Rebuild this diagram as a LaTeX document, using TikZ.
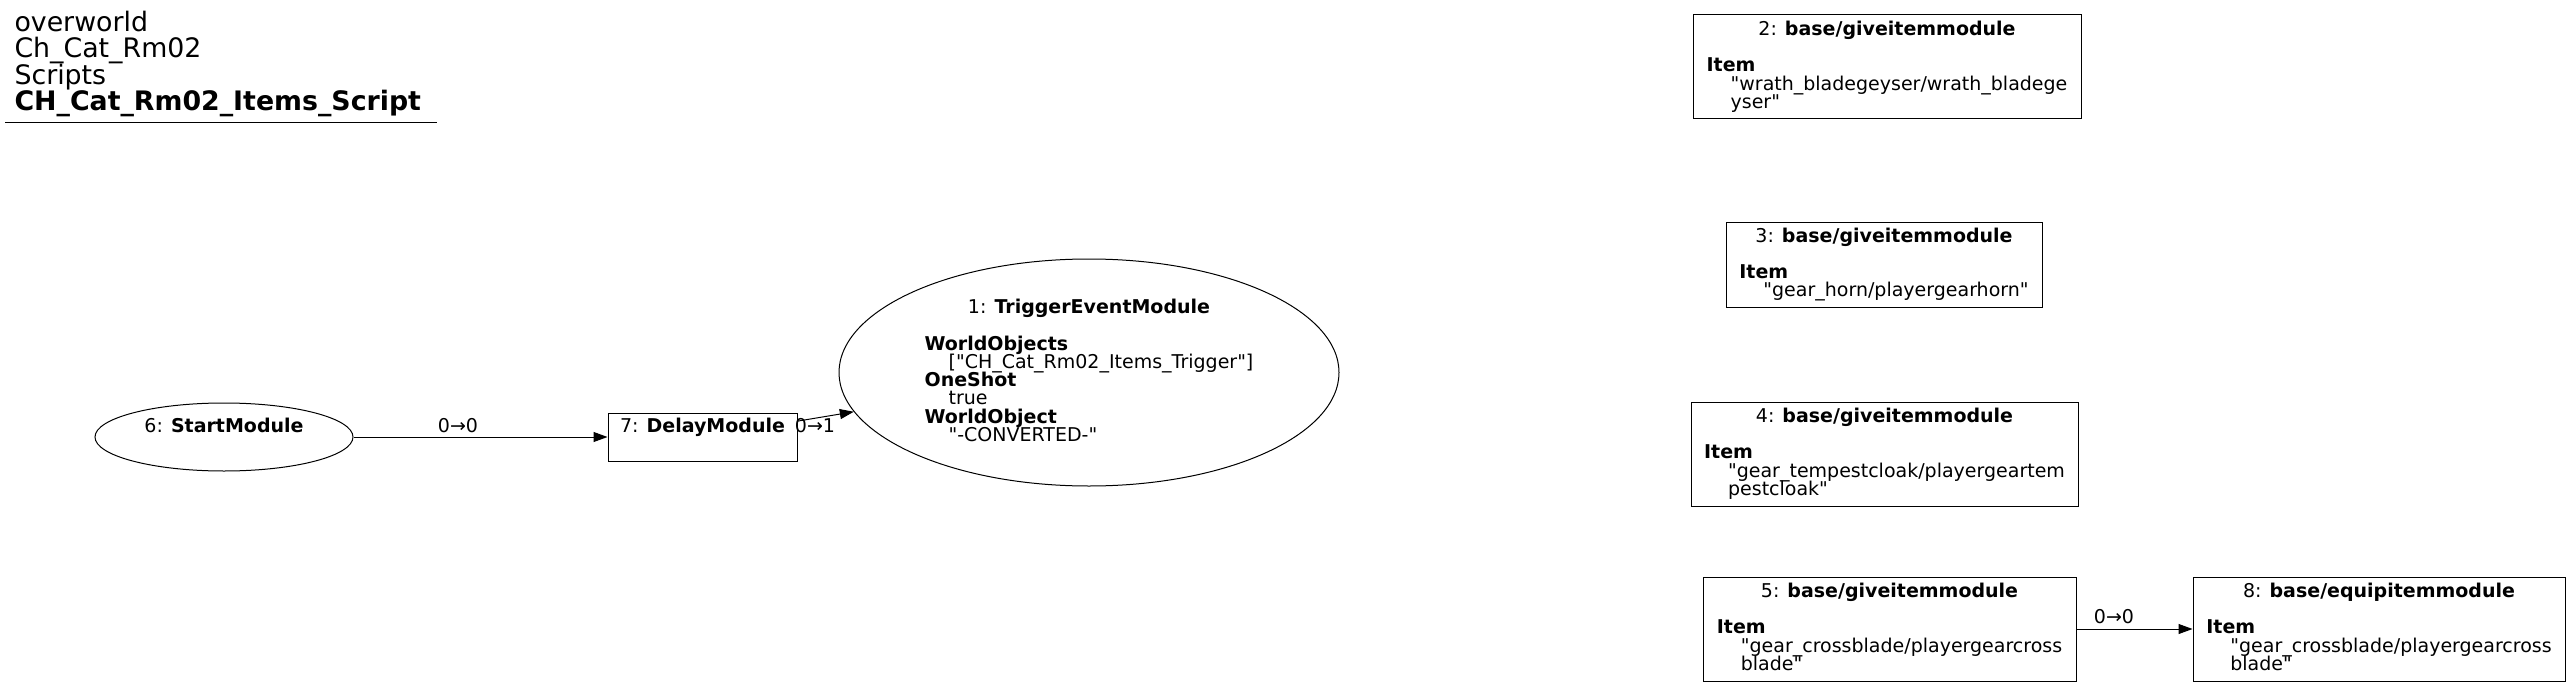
\documentclass[tikz,border=0pt]{standalone}
\usepackage{fontspec}
\setmainfont{DejaVu Sans}[Ligatures=TeXOff]
\usetikzlibrary{shapes.geometric,arrows.meta}

\newcommand{\nodefont}{\fontsize{19pt}{18.3pt}\selectfont}
\newcommand{\titlefont}{\fontsize{26.8pt}{26.5pt}\selectfont\lineskiplimit=-100pt\lineskip=0pt}
\newcommand{\lnstrut}{\rule[-4.5pt]{0pt}{18.9pt}}
\newcommand{\ind}{\hspace*{24pt}}
% title line, a blank line, then the field lines
\newcommand{\mlabel}[2]{\vbox{\baselineskip=18.3pt\lineskiplimit=-100pt\lineskip=0pt
	\halign{\lnstrut##\hfil\cr\hfill#1\hfill\cr\cr#2}}}

\tikzset{every picture/.style={line width=1pt}}
\tikzset{
	modbox/.style={draw, rectangle, inner xsep=12pt, inner ysep=0pt, font=\nodefont},
	modell/.style={draw, ellipse, inner sep=0pt, font=\nodefont},
	edge/.style={-{Triangle[length=14pt,width=10pt]}},
	lbl/.style={font=\nodefont, inner sep=0pt, anchor=base}}

\begin{document}
\begin{tikzpicture}[x=1pt,y=1pt,yscale=-1,xscale=1]
	\useasboundingbox (0,0) rectangle (2571,687);

	% Text Node
	\node [anchor=north west, inner sep=0pt, align=left, font=\titlefont] (ttl) at (14,10.6) {overworld\\Ch\_Cat\_Rm02\\Scripts\\\textbf{CH\_Cat\_Rm02\_Items\_Script}};
	%Straight Lines
	\draw (5,123) -- (437,123);

	%Shape: Ellipse
	\node [modell, minimum width=258pt, minimum height=68pt] (n6) at (224,437) {\mlabel{6: \textbf{StartModule}}{}};
	%Shape: Rectangle
	\node [modbox, minimum width=189pt, minimum height=48pt] (n7) at (702.5,437) {\mlabel{7: \textbf{DelayModule}}{}};
	%Shape: Ellipse
	\node [modell, minimum width=500pt, minimum height=227pt] (n1) at (1089,372.5) {\mlabel{1: \textbf{TriggerEventModule}}{%
		\textbf{WorldObjects}\cr
		\ind["CH\_Cat\_Rm02\_Items\_Trigger"]\cr
		\textbf{OneShot}\cr
		\ind true\cr
		\textbf{WorldObject}\cr
		\ind"-CONVERTED-"\cr}};
	%Shape: Rectangle
	\node [modbox, minimum width=388pt, minimum height=104pt] (n2) at (1887,67) {\mlabel{2: \textbf{base/giveitemmodule}}{%
		\textbf{Item}\cr
		\ind"wrath\_bladegeyser/wrath\_bladege\cr
		\ind yser"\cr}};
	%Shape: Rectangle
	\node [modbox, minimum width=316pt, minimum height=85pt] (n3) at (1884,264.5) {\mlabel{3: \textbf{base/giveitemmodule}}{%
		\textbf{Item}\cr
		\ind"gear\_horn/playergearhorn"\cr}};
	%Shape: Rectangle
	\node [modbox, minimum width=387pt, minimum height=104pt] (n4) at (1884.5,454) {\mlabel{4: \textbf{base/giveitemmodule}}{%
		\textbf{Item}\cr
		\ind"gear\_tempestcloak/playergeartem\cr
		\ind pestcloak"\cr}};
	%Shape: Rectangle
	\node [modbox, minimum width=373pt, minimum height=104pt] (n5) at (1889.5,629) {\mlabel{5: \textbf{base/giveitemmodule}}{%
		\textbf{Item}\cr
		\ind"gear\_crossblade/playergearcross\cr
		\ind blade"\cr}};
	%Shape: Rectangle
	\node [modbox, minimum width=372pt, minimum height=104pt] (n8) at (2379,629) {\mlabel{8: \textbf{base/equipitemmodule}}{%
		\textbf{Item}\cr
		\ind"gear\_crossblade/playergearcross\cr
		\ind blade"\cr}};

	%Straight Lines
	\draw [edge] (n6) -- (n7);
	\draw [edge] (n7) -- (n1);
	\draw [edge] (n5) -- (n8);

	% Text Node
	\node [lbl] (l67) at (458,432) {0→0};
	% Text Node
	\node [lbl] (l71) at (815,432) {0→1};
	% Text Node
	\node [lbl] (l58) at (2114,623) {0→0};

\end{tikzpicture}
\end{document}
